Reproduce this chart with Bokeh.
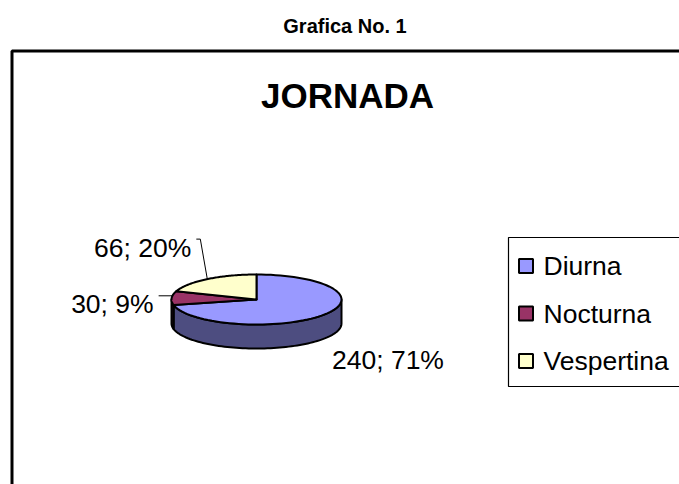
import numpy as np
from bokeh.plotting import figure
from bokeh.models import Range1d, ColumnDataSource
from bokeh.core.properties import value
from bokeh.embed import file_html
from bokeh.resources import INLINE

# ---------------- data ----------------
categories = ["Diurna", "Nocturna", "Vespertina"]
counts = [240, 30, 66]
page_title = "Grafica No. 1"
chart_title = "JORNADA"

# ---------------- styles / layout ----------------
top_colors = ["#9999FF", "#993366", "#FFFFCC"]
side_colors = ["#4D4D80", "#4D1A33", "#80806A"]
FONT = "Liberation Sans"
W, H = 679, 484
cx, cy, rx, ry, depth = 256, 299, 85, 25, 24
# label offsets relative to slice mid-point on the rim (dx, dy, align)
label_layout = [(9, 45, "left"), (-18, 6, "right"), (-16, -31, "right")]
leader_layout = [None, [(1, -2.3), (-13, -2.3)], [(0, 0), (-7, -40), (-11, -40)]]

p = figure(width=W, height=H, output_backend="svg", toolbar_location=None,
           x_range=Range1d(0, W), y_range=Range1d(H, 0), min_border=0,
           x_axis_location=None, y_axis_location=None)
p.grid.visible = False
p.outline_line_color = None
p.background_fill_color = "white"
p.border_fill_color = "white"

# outer frame (top and left visible)
p.line([11.5, 11.5, W + 10], [H + 10, 50.5, 50.5], line_color="black", line_width=3)

# titles
p.text(x=[344.5], y=[25], text=[page_title], text_font=value(FONT), text_font_style="bold",
       text_font_size="20px", text_align="center", text_baseline="middle", text_color="black")
p.text(x=[347], y=[95], text=[chart_title], text_font=value(FONT), text_font_style="bold",
       text_font_size="35px", text_align="center", text_baseline="middle", text_color="black")

# ---------------- pie geometry ----------------
vals = np.array(counts, dtype=float)
frac = vals / vals.sum()
starts = 90 - 360 * np.concatenate([[0], np.cumsum(frac)[:-1]])
ends = starts - 360 * frac


def rim(a_from, a_to, n=80, dy=0.0):
    t = np.radians(np.linspace(a_from, a_to, n))
    return cx + rx * np.cos(t), cy - ry * np.sin(t) + dy


side_xs, side_ys, side_fill = [], [], []
for a0, a1, col in zip(starts, ends, side_colors):
    lo, hi = a1, a0
    for k in range(-2, 2):
        f_lo, f_hi = k * 360 - 180, k * 360
        s, e = max(lo, f_lo), min(hi, f_hi)
        if e > s:
            tx, ty = rim(s, e)
            bx, by = rim(e, s, dy=depth)
            side_xs.append(list(tx) + list(bx))
            side_ys.append(list(ty) + list(by))
            side_fill.append(col)
p.patches(xs="xs", ys="ys", fill_color="fill", source=ColumnDataSource(
    dict(xs=side_xs, ys=side_ys, fill=side_fill)), line_color="black", line_width=2,
    line_join="round")

top_xs, top_ys = [], []
for a0, a1 in zip(starts, ends):
    tx, ty = rim(a0, a1)
    top_xs.append([cx] + list(tx))
    top_ys.append([cy] + list(ty))
p.patches(xs="xs", ys="ys", fill_color="fill", source=ColumnDataSource(
    dict(xs=top_xs, ys=top_ys, fill=top_colors)), line_color="black", line_width=2,
    line_join="round")

# ---------------- data labels ----------------
mids = (starts + ends) / 2
pcts = np.round(frac * 100).astype(int)
for i, (m, c, pc) in enumerate(zip(mids, counts, pcts)):
    ax = cx + rx * np.cos(np.radians(m))
    ay = cy - ry * np.sin(np.radians(m))
    dx, dy, al = label_layout[i]
    p.text(x=[ax + dx], y=[ay + dy], text=[f"{c}; {pc}%"], text_font=value(FONT),
           text_font_size="26.5px", text_align=al, text_baseline="middle", text_color="black")
    if leader_layout[i]:
        pts = leader_layout[i]
        p.line([ax + q[0] for q in pts], [ay + q[1] for q in pts], line_color="black", line_width=1)

# ---------------- legend ----------------
lx0, ly0, lgap = 508, 237, 47.5
p.line([W + 10, lx0, lx0, W + 10], [ly0, ly0, ly0 + 149, ly0 + 149],
       line_color="black", line_width=1.2)
rows = np.arange(len(categories))
p.rect(x=[525.5] * len(categories), y=list(265.5 + rows * lgap), width=14, height=14,
       fill_color=top_colors, line_color="black", line_width=2)
p.text(x=[543] * len(categories), y=list(265.5 + rows * lgap), text=categories,
       text_font=value(FONT), text_font_size="26.5px", text_align="left",
       text_baseline="middle", text_color="black")

open("out.html", "w").write(file_html(p, INLINE))
